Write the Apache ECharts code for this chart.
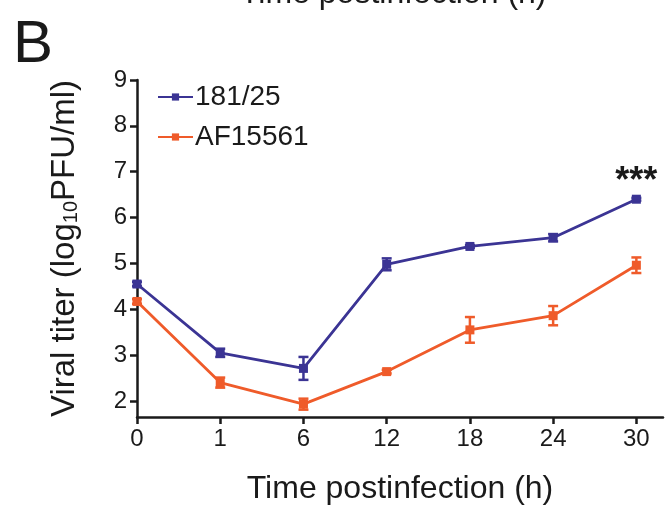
<!DOCTYPE html>
<html>
<head>
    <meta charset="utf-8">
    <title>Viral titer</title>
    <script src="https://cdn.jsdelivr.net/npm/echarts@6/dist/echarts.min.js"></script>
    <style>
        html, body { margin: 0; padding: 0; background: #fff; }
        #chart1 { width: 668px; height: 508px; }
    </style>
</head>
<body>
<div id="chart1"></div>
<script type="text/javascript">
    // time points (h), shown as evenly spaced categories
    var timeLabels = ['0', '1', '6', '12', '18', '24', '30'];
    var yTicks = [2, 3, 4, 5, 6, 7, 8, 9];

    // 181/25
    var blueMean = [4.55, 3.05, 2.71, 4.98, 5.37, 5.56, 6.40];
    var blueErr = [0.05, 0.09, 0.25, 0.13, 0.03, 0.08, 0.03];
    // AF15561
    var orangeMean = [4.17, 2.40, 1.93, 2.64, 3.55, 3.86, 4.96];
    var orangeErr = [0.05, 0.11, 0.12, 0.04, 0.28, 0.21, 0.17];

    var BLUE = '#3b3494';
    var ORANGE = '#ef5b2a';
    var FONT = 'Liberation Sans';

    function toPoints(arr) {
        return arr.map(function (v, i) { return [i, v]; });
    }
    function toErr(mean, err) {
        return mean.map(function (v, i) { return [i, v - err[i], v + err[i]]; });
    }

    // error bars drawn with the axes' own scales
    function errorBar(color) {
        return function (params, api) {
            var lo = api.coord([api.value(0), api.value(1)]);
            var hi = api.coord([api.value(0), api.value(2)]);
            var w = 5;
            var st = { stroke: color, lineWidth: 2.5 };
            return {
                type: 'group',
                children: [
                    { type: 'line', shape: { x1: lo[0], y1: lo[1], x2: hi[0], y2: hi[1] }, style: st },
                    { type: 'line', shape: { x1: lo[0] - w, y1: lo[1], x2: lo[0] + w, y2: lo[1] }, style: st },
                    { type: 'line', shape: { x1: hi[0] - w, y1: hi[1], x2: hi[0] + w, y2: hi[1] }, style: st }
                ]
            };
        };
    }

    var bluePts = toPoints(blueMean);
    // significance mark over the last time point
    bluePts[6] = {
        value: bluePts[6],
        label: {
            show: true, position: 'top', distance: 0, offset: [0, 5], formatter: '***',
            fontFamily: FONT, fontSize: 36, fontWeight: 'bold', color: '#1a1a1a'
        }
    };

    var myChart1 = echarts.init(document.getElementById('chart1'));
    var options = {
        animation: false,
        backgroundColor: '#fff',
        textStyle: { fontFamily: FONT },
        grid: { left: 137, right: 5, top: 80, bottom: 91, containLabel: false, outerBoundsMode: 'none' },
        legend: {
            orient: 'vertical',
            left: 152,
            top: 78,
            itemWidth: 35,
            itemHeight: 9,
            itemGap: 12,
            textStyle: { fontFamily: FONT, fontSize: 28, color: '#1a1a1a', padding: [0, 0, 0, -3] },
            data: ['181/25', 'AF15561']
        },
        xAxis: {
            type: 'value',
            min: 0,
            max: 6.32,
            name: 'Time postinfection (h)',
            nameLocation: 'middle',
            nameGap: 56,
            nameTextStyle: { fontFamily: FONT, fontSize: 32, color: '#1a1a1a' },
            axisLine: { lineStyle: { color: '#1a1a1a', width: 2.5 } },
            axisTick: { length: 7, lineStyle: { color: '#1a1a1a', width: 2.5 }, customValues: [0, 1, 2, 3, 4, 5, 6] },
            axisLabel: {
                fontFamily: FONT, fontSize: 24, color: '#1a1a1a', margin: 10,
                customValues: [0, 1, 2, 3, 4, 5, 6],
                formatter: function (v) { return timeLabels[Math.round(v)]; }
            },
            splitLine: { show: false }
        },
        yAxis: {
            type: 'value',
            min: 1.65,
            max: 9,
            name: '{a|Viral titer (log}{s|10}{a|PFU/ml)}',
            nameLocation: 'middle',
            nameGap: 56,
            nameTextStyle: {
                rich: {
                    a: { fontFamily: FONT, fontSize: 33, color: '#1a1a1a' },
                    s: { fontFamily: FONT, fontSize: 20, color: '#1a1a1a', verticalAlign: 'bottom', padding: [12, 0, 0, 0] }
                }
            },
            axisLine: { show: true, lineStyle: { color: '#1a1a1a', width: 2.5 } },
            axisTick: { show: true, length: 7, lineStyle: { color: '#1a1a1a', width: 2.5 }, customValues: yTicks },
            axisLabel: { fontFamily: FONT, fontSize: 24, color: '#1a1a1a', margin: 10, customValues: yTicks },
            splitLine: { show: false }
        },
        series: [{
            name: '181/25',
            type: 'line',
            data: bluePts,
            color: BLUE,
            symbol: 'rect',
            symbolSize: 9,
            lineStyle: { color: BLUE, width: 2.8 },
            itemStyle: { color: BLUE },
            z: 3
        }, {
            name: 'AF15561',
            type: 'line',
            data: toPoints(orangeMean),
            color: ORANGE,
            symbol: 'rect',
            symbolSize: 9,
            lineStyle: { color: ORANGE, width: 2.8 },
            itemStyle: { color: ORANGE },
            z: 2
        }, {
            type: 'custom',
            data: toErr(blueMean, blueErr),
            renderItem: errorBar(BLUE),
            z: 4
        }, {
            type: 'custom',
            data: toErr(orangeMean, orangeErr),
            renderItem: errorBar(ORANGE),
            z: 4
        }],
        graphic: [{
            type: 'text',
            left: 13,
            top: 15,
            style: { text: 'B', fontFamily: FONT, fontSize: 60, fill: '#1a1a1a' }
        }, {
            type: 'text',
            left: 240,
            top: -22,
            style: { text: 'Time postinfection (h)', fontFamily: FONT, fontSize: 32, fill: '#1a1a1a' }
        }]
    };
    myChart1.setOption(options);
</script>
</body>
</html>
